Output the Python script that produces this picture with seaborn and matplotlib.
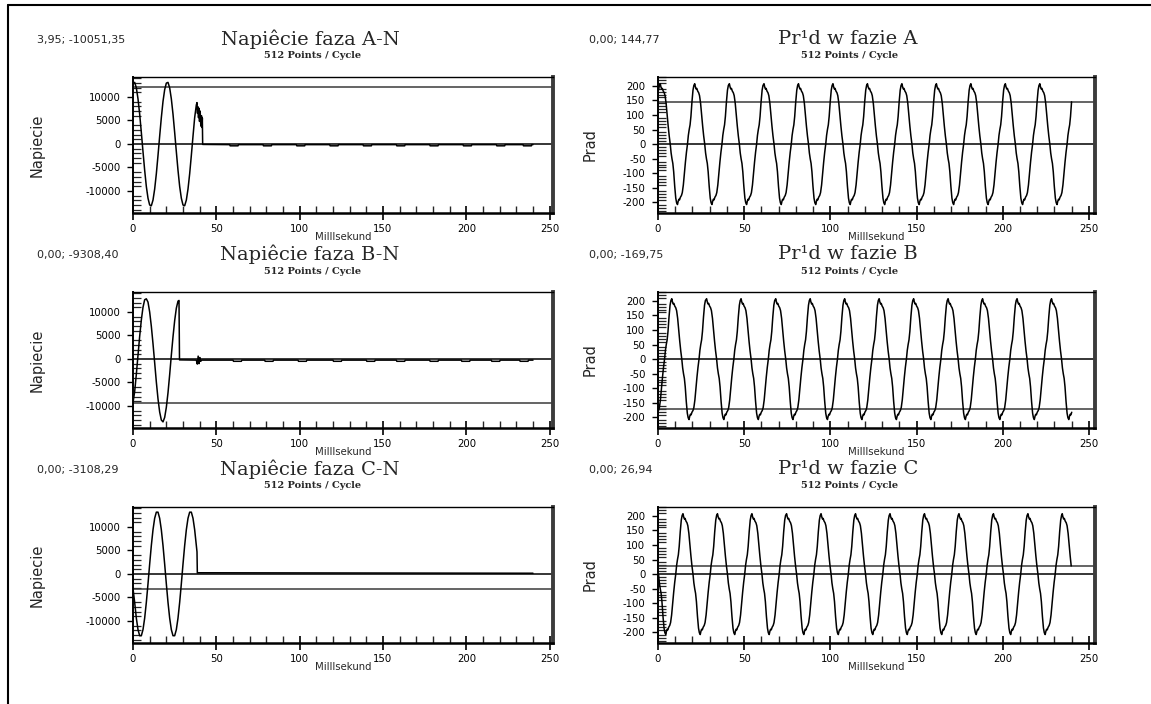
import matplotlib
matplotlib.use("Agg")
import matplotlib.pyplot as plt
import numpy as np
import pandas as pd
import seaborn as sns
from matplotlib.lines import Line2D
from matplotlib.ticker import MultipleLocator

# --- voltage traces (ms, V) ---
t_va = [0, 1, 2, 3, 4, 5, 6, 7, 8, 9, 10, 11, 12, 13, 14, 15, 16, 17, 18, 19,
        20, 21, 22, 23, 24, 25, 26, 27, 28, 29, 30, 31, 32, 33, 34, 35, 36, 37,
        38, 38.4, 38.7, 39.0, 39.3, 39.6, 39.9, 40.3, 40.7, 41.1, 41.4, 41.6, 41.8]
v_va = [12950, 13100, 11950, 9600, 6350, 2450, -1650, -5600, -9050, -11550,
        -13000, -13150, -11950, -9600, -6350, -2450, 1650, 5600, 9050, 11550,
        12950, 13100, 11950, 9600, 6350, 2450, -1650, -5600, -9050, -11550,
        -13000, -13150, -11950, -9600, -6350, -2450, 1650, 5600,
        8300, 8800, 6500, 7900, 5600, 7600, 4800, 7000, 3800, 6000, 3500, 5500, -100]
dash_va = [58, 78, 98, 118, 138, 158, 178, 198, 218, 234]

t_vb = [0, 1, 2, 3, 4, 5, 6, 7, 8, 9, 10, 11, 12, 13, 14, 15, 16, 17, 18, 19,
        20, 21, 22, 23, 24, 25, 26, 27, 27.6, 27.9, 38, 38.6, 39.1, 39.6, 40.1, 40.6, 41.2]
v_vb = [-9300, -6950, -3250, 800, 4800, 8300, 11000, 12600, 12800, 12100,
        10000, 6950, 3250, -800, -4900, -8500, -11300, -13000, -13400, -12450,
        -10300, -7200, -3350, 800, 4700, 8150, 10800, 12300, 12450, -200,
        -250, -1100, 600, -1000, 300, -500, -250]
dash_vb = [60, 79, 99, 120, 140, 158, 178, 197, 215, 232]

t_vc = [0, 1, 2, 3, 4, 5, 6, 7, 8, 9, 10, 11, 12, 13, 14, 15, 16, 17, 18, 19,
        20, 21, 22, 23, 24, 25, 26, 27, 28, 29, 30, 31, 32, 33, 34, 35, 36, 37,
        38, 38.4, 38.6, 39.2, 240]
v_vc = [-3100, -6050, -9400, -11850, -13150, -13150, -11850, -9400, -6050, -2100,
        2100, 6050, 9400, 11850, 13150, 13150, 11850, 9400, 6050, 2100,
        -2100, -6050, -9400, -11850, -13150, -13150, -11850, -9400, -6050, -2100,
        2100, 6050, 9400, 11850, 13150, 13150, 11850, 9400,
        6050, 4700, 200, 250, 150]

# --- one period of the phase current relative to its peak (ms, A) ---
cyc_d = [0.0, 0.4, 0.8, 1.2, 1.7, 2.3, 2.8, 3.4, 4.0, 4.6, 5.2, 5.8, 6.3, 6.8, 7.3, 7.8, 8.4, 9.0, 9.5,
         10.0, 10.4, 10.8, 11.2, 11.7, 12.3, 12.8, 13.4, 14.0, 14.6, 15.2, 15.8, 16.3, 16.8, 17.3, 17.8, 18.4, 19.0, 19.5]
cyc_i = [207, 196, 189, 191, 182, 176, 166, 140, 100, 62, 28, 0, -30, -50, -66, -95, -145, -185, -201,
         -207, -196, -189, -191, -182, -176, -166, -140, -100, -62, -28, 0, 30, 50, 66, 95, 145, 185, 201]
# peak instants of each cycle (ms)
peaks_ia = [-18.7, 1.3, 21.3, 41.4, 61.5, 81.5, 101.5, 121.5, 141.5, 161.5, 181.5, 201.5, 221.5, 241.5]
peaks_ib = [-12.0, 8.0, 28.2, 48.2, 68.3, 88.3, 108.3, 128.3, 148.3, 168.3, 188.3, 208.3, 228.3, 248.3]
peaks_ic = [-5.5, 14.5, 34.5, 54.5, 74.6, 94.6, 114.6, 134.6, 154.6, 174.6, 194.6, 214.6, 234.5]

titles_v = ['Napiêcie faza A-N', 'Napiêcie faza B-N', 'Napiêcie faza C-N']
titles_i = ['Pr¹d w fazie A', 'Pr¹d w fazie B', 'Pr¹d w fazie C']
cursor_txt_v = ['3,95; -10051,35', '0,00; -9308,40', '0,00; -3108,29']
cursor_txt_i = ['0,00; 144,77', '0,00; -169,75', '0,00; 26,94']
cursor_v = [12200, -9300, -3100]
cursor_i = [145, -170, 27]
T_END = 240


def voltage_frame(t, v, dashes, level):
    df = pd.DataFrame({'ms': t, 'val': v})
    if dashes is not None:
        tail = []
        for s in dashes:
            tail += [(s, level), (s + 0.3, level - 250), (s + 5, level - 250), (s + 5.3, level)]
        tail.append((T_END, level))
        df = pd.concat([df, pd.DataFrame(tail, columns=['ms', 'val'])], ignore_index=True)
    return df


def current_frame(peaks):
    rows = []
    for p in peaks:
        for d, i in zip(cyc_d, cyc_i):
            if 0 <= p + d <= T_END:
                rows.append((p + d, i))
    return pd.DataFrame(rows, columns=['ms', 'val']).sort_values('ms')


volt = [voltage_frame(t_va, v_va, dash_va, -150),
        voltage_frame(t_vb, v_vb, dash_vb, -250),
        voltage_frame(t_vc, v_vc, None, 0)]
curr = [current_frame(peaks_ia), current_frame(peaks_ib), current_frame(peaks_ic)]

sns.set_style("ticks")
plt.rcParams['font.family'] = ['DejaVu Sans']
plt.rcParams['axes.unicode_minus'] = False

W, H = 1151, 704
fig = plt.figure(figsize=(W / 100, H / 100), dpi=100)


def px(x, y):
    return x / W, 1 - y / H


def style_axes(ax, xmax, ylim, ymaj, ymin):
    ax.set_xlim(0, xmax)
    ax.set_ylim(*ylim)
    ax.xaxis.set_major_locator(MultipleLocator(50))
    ax.xaxis.set_minor_locator(MultipleLocator(10))
    ax.yaxis.set_major_locator(MultipleLocator(ymaj))
    ax.yaxis.set_minor_locator(MultipleLocator(ymin))
    ax.tick_params(axis='x', which='major', direction='inout', length=10, width=1.2,
                   pad=3, labelsize=7.3, colors='k')
    ax.tick_params(axis='x', which='minor', direction='in', length=5, width=1.0)
    ax.tick_params(axis='y', which='major', direction='out', length=4, width=1.0,
                   pad=5, labelsize=7.3, colors='k')
    ax.tick_params(axis='y', which='minor', direction='in', length=6, width=0.9)
    for s in ['top', 'right', 'left', 'bottom']:
        ax.spines[s].set_visible(True)
        ax.spines[s].set_color('k')
    ax.spines['top'].set_linewidth(1.0)
    ax.spines['left'].set_linewidth(1.4)
    ax.spines['bottom'].set_linewidth(1.8)
    ax.spines['right'].set_linewidth(2.8)
    ax.spines['right'].set_color('#3c3c3c')
    ax.grid(False)


cols = [(133, 553, 252), (658, 1095, 253.5)]
row_tops = [77, 292, 507]
AX_H = 136

for r in range(3):
    top = row_tops[r]
    for c in range(2):
        x0, x1, xmax = cols[c]
        l, b = px(x0, top + AX_H)
        ax = fig.add_axes([l, b, (x1 - x0) / W, AX_H / H])
        if c == 0:
            df, cur = volt[r], cursor_v[r]
            style_axes(ax, xmax, (-14700, 14250), 5000, 1000)
            ylab, ylab_dx, xlab_x = 'Napiecie', -88, 0.5
            title, sub_x, title_x, lab_x, lab = titles_v[r], 313, 310, 37, cursor_txt_v[r]
        else:
            df, cur = curr[r], cursor_i[r]
            style_axes(ax, xmax, (-236, 230), 50, 10)
            ylab, ylab_dx, xlab_x = 'Prad', -60, 0.5
            title, sub_x, title_x, lab_x, lab = titles_i[r], 850, 848, 589, cursor_txt_i[r]
        ax.axhline(0, color='k', lw=1.1, zorder=1)
        ax.axhline(cur, color='#3a3a3a', lw=1.1, zorder=1)
        sns.lineplot(data=df, x='ms', y='val', ax=ax, sort=False, estimator=None,
                     color='k', lw=1.1, zorder=3)
        ax.set_xlabel('Milllsekund', fontsize=7.3)
        ax.xaxis.set_label_coords(xlab_x, -0.14)
        ax.set_ylabel(ylab, fontsize=10.5)
        ax.yaxis.set_label_coords(ylab_dx / (x1 - x0), 0.5)

        fig.text(*px(title_x, top - 38), title, ha='center', va='center',
                 family='DejaVu Serif', fontsize=14)
        fig.text(*px(sub_x, top - 21), '512 Points / Cycle', ha='center', va='center',
                 family='DejaVu Serif', fontsize=7, fontweight='bold')
        fig.text(*px(lab_x, top - 37), lab, ha='left', va='center', fontsize=8)

# scanned page frame (top and left edge)
fig.add_artist(Line2D([8 / W, 8 / W], [0, 1 - 5 / H], transform=fig.transFigure, color='k', lw=1.5))
fig.add_artist(Line2D([8 / W, 1], [1 - 5 / H, 1 - 5 / H], transform=fig.transFigure, color='k', lw=1.5))

fig.savefig('out.png', dpi=100, facecolor='white')
